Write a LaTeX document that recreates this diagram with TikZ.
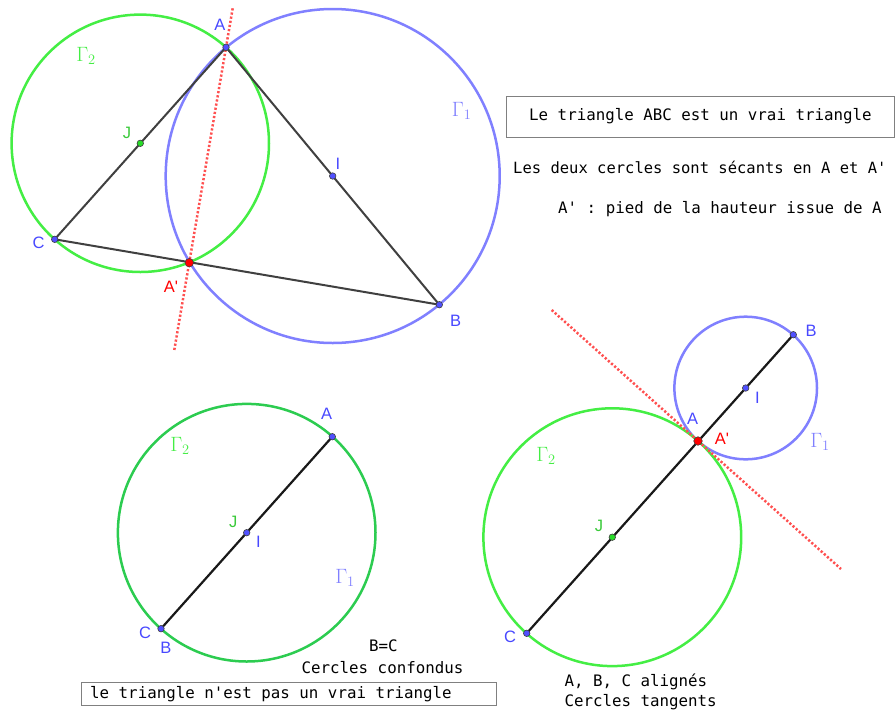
\documentclass[tikz,border=0pt]{standalone}
\usepackage{fontspec}
\setmainfont{Liberation Sans}
\setmonofont{DejaVu Sans Mono}
\definecolor{gbright}{RGB}{68,238,68}
\definecolor{gdark}{RGB}{44,204,80}
\definecolor{bcirc}{RGB}{128,128,255}
\definecolor{blab}{RGB}{72,72,255}
\definecolor{ptblue}{RGB}{80,80,255}
\definecolor{ptgreen}{RGB}{40,220,40}
\definecolor{dotred}{RGB}{255,80,80}
\definecolor{sidegray}{RGB}{64,64,64}
\begin{document}
\begin{tikzpicture}[x=1pt,y=-1pt,
  pnt/.style={circle, fill=ptblue, draw=black!75, line width=0.6pt, inner sep=0pt, minimum size=6.5pt},
  pntg/.style={pnt, fill=ptgreen},
  pntr/.style={pnt, fill=red, minimum size=8.5pt},
  lab/.style={font=\fontsize{16.5}{16.5}\selectfont, text=blab, inner sep=0pt},
  labg/.style={lab, text=gbright!85!black},
  labr/.style={lab, text=red},
  gam/.style={font=\fontsize{20}{20}\selectfont, inner sep=0pt},
  side/.style={line width=2pt, draw=sidegray},
  seg/.style={line width=2.2pt, draw=black!90},
  circ/.style={line width=2.5pt},
  alt/.style={line width=2.5pt, draw=dotred, dash pattern=on 2.2pt off 2pt},
  txt/.style={font=\ttfamily\fontsize{15.8}{15.8}\selectfont, inner sep=0pt},
  boxline/.style={draw=black!50, line width=1pt}
]
\useasboundingbox (0,0) rectangle (895,713);
\fill[white] (0,0) rectangle (895,713);

% ---------- top figure ----------
\coordinate (I1) at (332.7,176);
\coordinate (J1) at (140.3,143.3);
\coordinate (t1) at (232.7,8.3);
\coordinate (t2) at (174.3,350);
\draw[circ, draw=bcirc] (I1) circle (167pt);
\draw[circ, draw=gbright] (J1) circle (128.7pt);
\draw[alt] (t1) -- (t2);
\coordinate (A1c) at (226,47.3);
\coordinate (B1c) at (439.3,304.7);
\coordinate (C1c) at (54.7,239.3);
\draw[side] (A1c) -- (B1c) -- (C1c) -- cycle;
\node[pnt] (A1) at (A1c) {};
\node[pnt] (B1) at (B1c) {};
\node[pnt] (C1) at (C1c) {};
\node[pnt] (Ip1) at (I1) {};
\node[pntg] (Jp1) at (J1) {};
\node[pntr] (H1) at (189.3,262.7) {};
\node[lab] (lA1) at (220,25) {A};
\node[lab] (lB1) at (455.7,320.7) {B};
\node[lab] (lC1) at (38.7,243) {C};
\node[lab] (lI1) at (338,164) {I};
\node[labg] (lJ1) at (127,133) {J};
\node[labr] (lH1) at (171,287) {A\textquotesingle};
\node[gam, text=bcirc] (g11) at (461.7,111) {$\Gamma_1$};
\node[gam, text=gbright] (g21) at (86,56) {$\Gamma_2$};

% ---------- texts top right ----------
\draw[boxline] (506.7,96) rectangle (894,137.3);
\node[txt, anchor=base west] (tx1) at (529,120.7) {Le triangle ABC est un vrai triangle};
\node[txt, anchor=base west, font=\ttfamily\fontsize{15.5}{15.5}\selectfont] (tx2) at (513,173.3) {Les deux cercles sont sécants en A et A'};
\node[txt, anchor=base west] (tx3) at (558,213.3) {A' : pied de la hauteur issue de A};

% ---------- bottom left figure ----------
\coordinate (O2) at (246.7,532.7);
\draw[circ, draw=gdark] (O2) circle (128.8pt);
\coordinate (A2c) at (332.3,436.7);
\coordinate (C2c) at (161,628.7);
\draw[seg] (A2c) -- (C2c);
\node[pnt] (A2) at (A2c) {};
\node[pnt] (C2) at (C2c) {};
\node[pnt] (Op2) at (O2) {};
\node[lab] (lA2) at (326.7,414) {A};
\node[labg] (lJ2) at (233.3,521.7) {J};
\node[lab] (lI2) at (258.3,542.3) {I};
\node[lab] (lC2) at (145,632.7) {C};
\node[lab] (lB2) at (166,648.3) {B};
\node[gam, text=gbright] (g22) at (180,446) {$\Gamma_2$};
\node[gam, text=bcirc] (g12) at (345,578.3) {$\Gamma_1$};
\node[txt, anchor=base] (tx4) at (383.3,651.7) {B=C};
\node[txt, anchor=base] (tx5) at (382.5,673.3) {Cercles confondus};
\draw[boxline] (81.7,682.7) rectangle (496,705);
\node[txt, anchor=base west] (tx6) at (90,698.3) {le triangle n'est pas un vrai triangle};

% ---------- bottom right figure ----------
\coordinate (I3) at (745.7,388);
\coordinate (J3) at (612.3,537.2);
\coordinate (u1) at (551.7,310);
\coordinate (u2) at (841,569);
\draw[circ, draw=bcirc] (I3) circle (71.3pt);
\draw[circ, draw=gbright] (J3) circle (128.9pt);
\draw[alt] (u1) -- (u2);
\coordinate (B3c) at (793.3,334.7);
\coordinate (C3c) at (526.7,633.3);
\draw[seg] (B3c) -- (C3c);
\node[pnt] (B3) at (B3c) {};
\node[pnt] (C3) at (C3c) {};
\node[pnt] (Ip3) at (I3) {};
\node[pntg] (Jp3) at (J3) {};
\node[pntr] (A3) at (698,441) {};
\node[lab] (lB3) at (811,330.7) {B};
\node[lab] (lI3) at (757.3,398) {I};
\node[lab] (lA3) at (692.7,419) {A};
\node[labr] (lH3) at (722,439.3) {A\textquotesingle};
\node[labg] (lJ3) at (599,526) {J};
\node[lab] (lC3) at (510,636.7) {C};
\node[gam, text=bcirc] (g13) at (820,441.7) {$\Gamma_1$};
\node[gam, text=gbright] (g23) at (546,456) {$\Gamma_2$};
\node[txt, anchor=base west] (tx7) at (564.3,686) {A, B, C alignés};
\node[txt, anchor=base west] (tx8) at (564.3,706.7) {Cercles tangents};
\end{tikzpicture}
\end{document}
